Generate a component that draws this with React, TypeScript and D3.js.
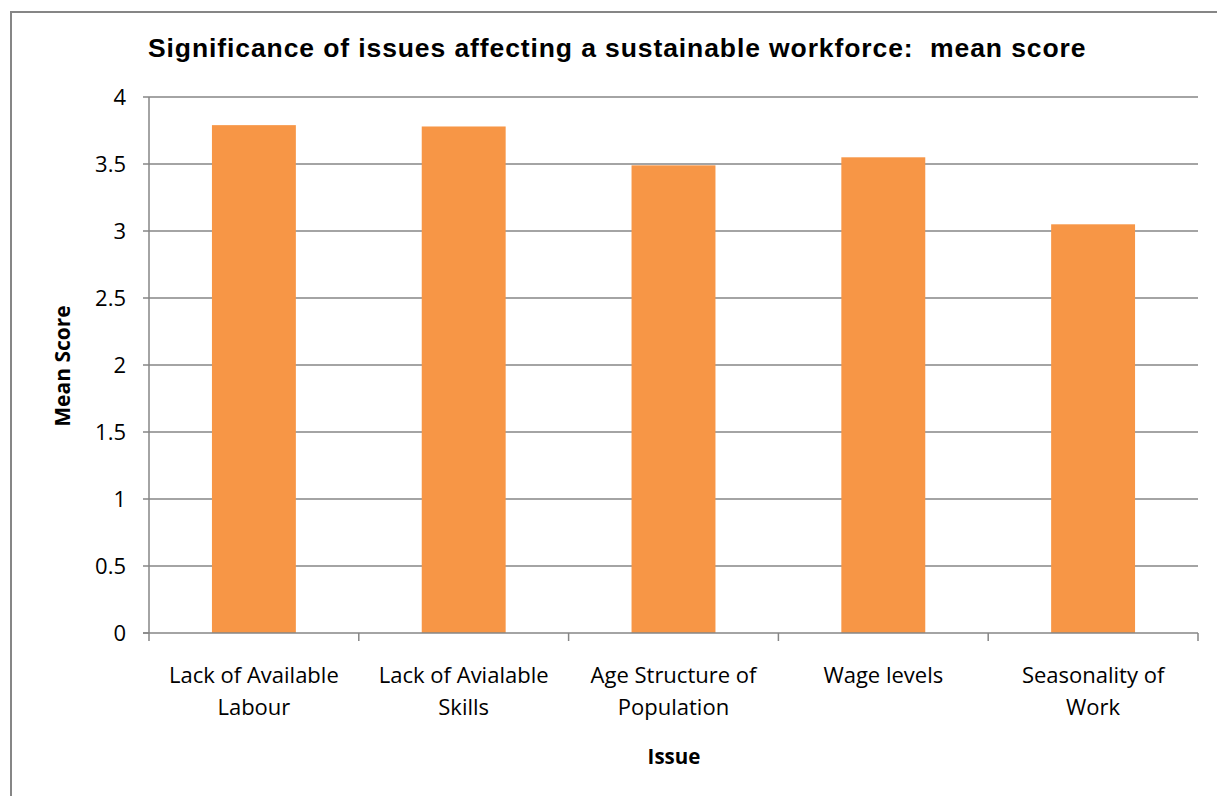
import React from "react";
import * as d3 from "d3";

const categories: string[][] = [
  ["Lack of Available", "Labour"],
  ["Lack of Avialable", "Skills"],
  ["Age Structure of", "Population"],
  ["Wage levels"],
  ["Seasonality of", "Work"],
];
const values: number[] = [3.79, 3.78, 3.49, 3.55, 3.05];
const yTicks: number[] = [0, 0.5, 1, 1.5, 2, 2.5, 3, 3.5, 4];
const title = "Significance of issues affecting a sustainable workforce:  mean score";
const yTitle = "Mean Score";
const xTitle = "Issue";

const W = 1217, H = 796;
const M = { left: 149, right: 1198, top: 97, bottom: 633 };
const GRID = "#868686";
const BAR = "#F79646";
const LABEL_FONT = "'Open Sans', 'Liberation Sans', sans-serif";
const TITLE_FONT = "'Liberation Sans', Arial, sans-serif";

export default function App() {
  const idx = categories.map((_, i) => String(i));
  const x = d3.scaleBand<string>().domain(idx).range([M.left, M.right]).paddingInner(0).paddingOuter(0);
  const y = d3.scaleLinear().domain([0, 4]).range([M.bottom, M.top]);
  const bw = x.bandwidth() * 0.4;
  return (
    <svg width={W} height={H} style={{ position: "absolute", left: 0, top: 0, background: "#fff" }}>
      <rect x={11} y={12} width={W + 10} height={H + 10} fill="#fff" stroke={GRID} strokeWidth={2} />
      <text x={148} y={57} textAnchor="start" fontFamily={TITLE_FONT} fontWeight="bold" fontSize={26.5} letterSpacing={0.9} fill="#000" style={{ whiteSpace: "pre" }}>
        {title}
      </text>
      {yTicks.map((t) => (
        <g key={t}>
          {t > 0 && <line x1={M.left} x2={M.right} y1={y(t)} y2={y(t)} stroke={GRID} strokeWidth={1.5} />}
          <line x1={M.left - 6} x2={M.left} y1={y(t)} y2={y(t)} stroke={GRID} strokeWidth={1.5} />
          <text x={126} y={y(t)} dy="0.36em" textAnchor="end" fontFamily={LABEL_FONT} fontSize={22} fill="#000">
            {String(t)}
          </text>
        </g>
      ))}
      {values.map((v, i) => {
        const cx = (x(String(i)) as number) + x.bandwidth() / 2;
        return <rect key={i} x={cx - bw / 2} y={y(v)} width={bw} height={y(0) - y(v)} fill={BAR} />;
      })}
      <line x1={M.left} x2={M.left} y1={M.top} y2={M.bottom} stroke={GRID} strokeWidth={1.5} />
      <line x1={M.left - 6} x2={M.right} y1={M.bottom} y2={M.bottom} stroke={GRID} strokeWidth={1.5} />
      {d3.range(categories.length + 1).map((i) => {
        const xx = M.left + i * x.step();
        return <line key={i} x1={xx} x2={xx} y1={M.bottom} y2={M.bottom + 8} stroke={GRID} strokeWidth={1.5} />;
      })}
      {categories.map((lines, i) => {
        const cx = (x(String(i)) as number) + x.bandwidth() / 2;
        return (
          <text key={i} textAnchor="middle" fontFamily={LABEL_FONT} fontSize={22} fill="#000">
            {lines.map((l, j) => (
              <tspan key={j} x={cx} y={683 + j * 32}>{l}</tspan>
            ))}
          </text>
        );
      })}
      <text x={674} y={764} textAnchor="middle" fontFamily={LABEL_FONT} fontWeight="bold" fontSize={20.5} fill="#000">
        {xTitle}
      </text>
      <text transform={`translate(70,366) rotate(-90)`} textAnchor="middle" fontFamily={LABEL_FONT} fontWeight="bold" fontSize={21} fill="#000">
        {yTitle}
      </text>
    </svg>
  );
}
